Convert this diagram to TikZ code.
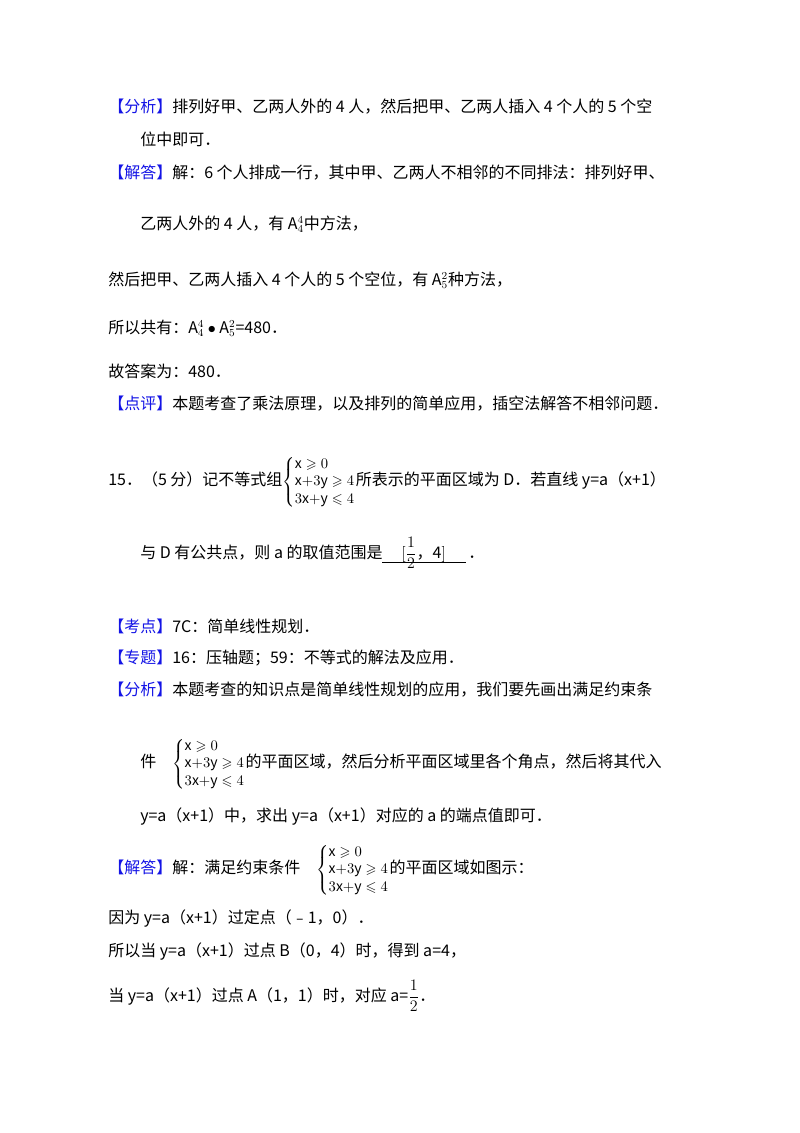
\documentclass[tikz,border=0pt]{standalone}
\usepackage{amsmath,amssymb}
\usepackage{fontspec}
\setmainfont{Noto Sans CJK SC}
\definecolor{hb}{RGB}{20,20,230}
\newcommand{\hb}[1]{\textcolor{hb}{【#1】}}
\newcommand{\sys}{\ensuremath{\left\{\renewcommand{\arraystretch}{1.1}\begin{array}{@{}l@{}}\mathrm{x}\geqslant 0\\ \mathrm{x}{+}3\mathrm{y}\geqslant 4\\ 3\mathrm{x}{+}\mathrm{y}\leqslant 4\end{array}\right.}}
\begin{document}
\begin{tikzpicture}[x=0.75pt,y=-0.75pt,every node/.style={anchor=base west,inner sep=0pt,font=\fontsize{12}{14}\selectfont}]
\useasboundingbox (0,0) rectangle (800,1133);
\fill[white] (0,0) rectangle (800,1133);
\node (l1) at (108,112) {\hb{分析}排列好甲、乙两人外的 4 人，然后把甲、乙两人插入 4 个人的 5 个空};
\node (l2) at (140,145) {位中即可．};
\node (l3) at (108,178) {\hb{解答}解：6 个人排成一行，其中甲、乙两人不相邻的不同排法：排列好甲、};
\node (l4) at (140,229) {乙两人外的 4 人，有 $\mathrm{A}_4^4$中方法，};
\node (l5) at (108,285) {然后把甲、乙两人插入 4 个人的 5 个空位，有 $\mathrm{A}_5^2$种方法，};
\node (l6) at (108,333) {所以共有：$\mathrm{A}_4^4\bullet\mathrm{A}_5^2$=480．};
\node (l7) at (108,377) {故答案为：480．};
\node (l8) at (108,409) {\hb{点评}本题考查了乘法原理，以及排列的简单应用，插空法解答不相邻问题．};
\node (l9) at (108,485) {15．（5 分）记不等式组\raisebox{-0.1ex}{\fontsize{10.5}{12}\selectfont\sys}所表示的平面区域为 D．若直线 y=a（x+1）};
\node (l10) at (140,558) {与 D 有公共点，则 a 的取值范围是\quad\,$[\dfrac{1}{2}$，4$]$};
\draw (382,562) -- (466,562);
\node (l10b) at (468,558) {．};
\node (l11) at (108,632) {\hb{考点}7C：简单线性规划．};
\node (l12) at (108,663) {\hb{专题}16：压轴题；59：不等式的解法及应用．};
\node (l13) at (108,695) {\hb{分析}本题考查的知识点是简单线性规划的应用，我们要先画出满足约束条};
\node (l14) at (140,767) {件\quad\raisebox{-0.1ex}{\fontsize{10.5}{12}\selectfont\sys}的平面区域，然后分析平面区域里各个角点，然后将其代入};
\node (l15) at (140,821) {y=a（x+1）中，求出 y=a（x+1）对应的 a 的端点值即可．};
\node (l16) at (108,873) {\hb{解答}解：满足约束条件\quad\raisebox{-0.1ex}{\fontsize{10.5}{12}\selectfont\sys}的平面区域如图示：};
\node (l17) at (108,923) {因为 y=a（x+1）过定点（﹣1，0）．};
\node (l18) at (108,956) {所以当 y=a（x+1）过点 B（0，4）时，得到 a=4，};
\node (l19) at (108,1001) {当 y=a（x+1）过点 A（1，1）时，对应 a=$\dfrac{1}{2}$．};
\end{tikzpicture}
\end{document}
